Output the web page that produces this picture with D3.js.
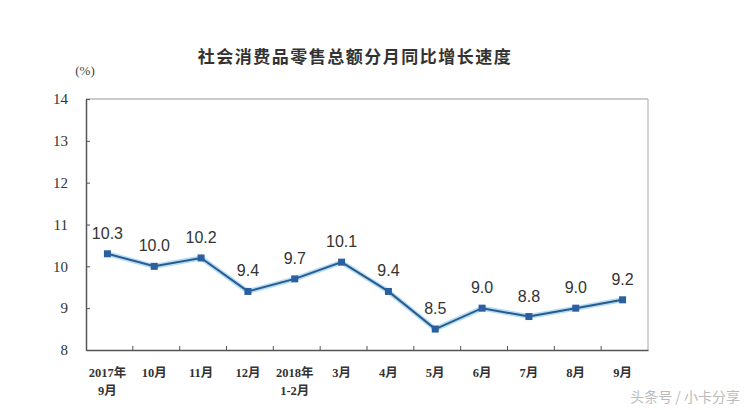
<!DOCTYPE html>
<html><head><meta charset="utf-8">
<script src="https://cdn.jsdelivr.net/npm/d3@7"></script>
<style>body{margin:0;background:#fff}svg{display:block}</style>
</head><body>
<svg id="c" width="750" height="410"></svg>
<script>
const categories = ["2017年\n9月","10月","11月","12月","2018年\n1-2月","3月","4月","5月","6月","7月","8月","9月"];
const values = [10.3,10.0,10.2,9.4,9.7,10.1,9.4,8.5,9.0,8.8,9.0,9.2];
const yTicks = [8,9,10,11,12,13,14];
const title = "社会消费品零售总额分月同比增长速度";
const unit = "(%)";
const watermark = "头条号 / 小卡分享";

const svg = d3.select("#c");
const L=86, R=648, T=99, B=350;
const x = d3.scaleBand().domain(d3.range(categories.length)).range([L,R]);
const y = d3.scaleLinear().domain([8,14]).range([B,T]);
const serif = "'Liberation Serif','Noto Sans CJK SC',serif";
const cjk = "'Noto Sans CJK SC',sans-serif";

svg.append("text").attr("x",355).attr("y",63).attr("text-anchor","middle")
  .attr("font-family",cjk).attr("font-size",17).attr("letter-spacing",1.5).attr("font-weight","bold").attr("fill","#333").text(title);
svg.append("text").attr("x",85).attr("y",75).attr("text-anchor","middle")
  .attr("font-family",serif).attr("font-size",13).attr("fill","#444").text(unit);

// frame top/right
svg.append("line").attr("x1",L).attr("x2",R).attr("y1",T).attr("y2",T).attr("stroke","#999").attr("stroke-width",1);
svg.append("line").attr("x1",R).attr("x2",R).attr("y1",T).attr("y2",B).attr("stroke","#aaa").attr("stroke-width",1);

// y axis
const ya = svg.append("g").attr("transform",`translate(${L},0)`)
  .call(d3.axisLeft(y).tickValues(yTicks).tickSizeInner(-4).tickSizeOuter(0).tickPadding(18).tickFormat(d3.format("d")));
ya.select(".domain").attr("stroke","#555").attr("stroke-width",1.5);
ya.selectAll(".tick line").attr("stroke","#555");
ya.selectAll("text").attr("font-family",serif).attr("font-size",15).attr("fill","#333");

// x axis
const xa = svg.append("g").attr("transform",`translate(0,${B})`)
  .call(d3.axisBottom(x).tickSize(0).tickFormat(""));
xa.select(".domain").attr("stroke","#555").attr("stroke-width",1.5);
const bounds = d3.range(1,categories.length).map(i=>x(i));
svg.selectAll(".xt").data(bounds).join("line").attr("x1",d=>d).attr("x2",d=>d)
  .attr("y1",B).attr("y2",B-4).attr("stroke","#555");
const xl = svg.append("g");
categories.forEach((c,i)=>{
  const t = xl.append("text").attr("x",x(i)+x.bandwidth()/2).attr("y",377).attr("text-anchor","middle")
    .attr("font-family",serif).attr("font-size",12.5).attr("fill","#333").attr("font-weight","bold");
  c.split("\n").forEach((s,j)=>t.append("tspan").attr("x",x(i)+x.bandwidth()/2 - 2).attr("dy",j?18:0).text(s));
});

const cx = i=>x(i)+x.bandwidth()/2 - 2;
const line = d3.line().x((d,i)=>cx(i)).y(d=>y(d));
svg.append("path").datum(values).attr("d",line).attr("fill","none").attr("stroke","#9fd4f3").attr("stroke-width",5).attr("opacity",0.8);
svg.append("path").datum(values).attr("d",line).attr("fill","none").attr("stroke","#2c5a8c").attr("stroke-width",2);
svg.selectAll(".m").data(values).join("rect").attr("x",(d,i)=>cx(i)-3.5).attr("y",d=>y(d)-3.5)
  .attr("width",7).attr("height",7).attr("fill","#2a5fa0");
svg.selectAll(".lb").data(values).join("text").attr("x",(d,i)=>cx(i)).attr("y",d=>y(d)-15)
  .attr("text-anchor","middle").attr("font-family","'Liberation Sans',Arial,sans-serif").attr("font-size",16).attr("fill","#333")
  .text(d=>d.toFixed(1));

svg.append("text").attr("x",740).attr("y",402).attr("text-anchor","end")
  .attr("font-family",cjk).attr("font-size",14).attr("fill","#bbb").text(watermark);
</script>
</body></html>
